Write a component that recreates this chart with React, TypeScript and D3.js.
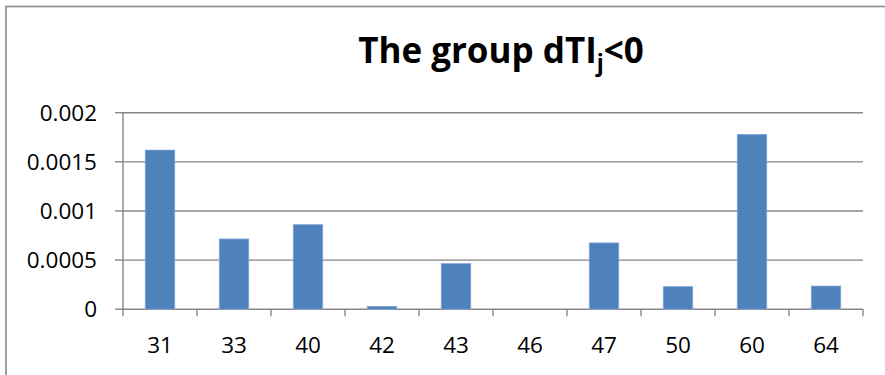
import React from "react";
import * as d3 from "d3";

const categories = ["31", "33", "40", "42", "43", "46", "47", "50", "60", "64"];
const values = [0.00162, 0.000715, 0.000862, 0.00003, 0.000466, 0, 0.000675, 0.000232, 0.00178, 0.000236];
const yTicks = [0, 0.0005, 0.001, 0.0015, 0.002];
const yTickLabels = ["0", "0.0005", "0.001", "0.0015", "0.002"];

const W = 885;
const H = 375;
const plot = { left: 123, right: 863, top: 112.7, bottom: 309.2 };
const font = "'Open Sans', 'Liberation Sans', sans-serif";
const axisColor = "#868686";

export default function App() {
  const x = d3
    .scaleBand<string>()
    .domain(categories)
    .range([plot.left, plot.right])
    .paddingInner(0.6)
    .paddingOuter(0.3);
  const step = (plot.right - plot.left) / categories.length;
  const y = d3.scaleLinear().domain([0, 0.002]).range([plot.bottom, plot.top]);

  return (
    <svg
      width={W}
      height={H}
      style={{ position: "absolute", left: 0, top: 0, background: "#fff" }}
    >
      {/* chart frame */}
      <rect x={6} y={6.5} width={W + 20} height={H + 20} fill="#fff" stroke="#8a8a8a" strokeWidth={1.6} />

      {/* title */}
      <text x={501} y={63} textAnchor="middle" fontFamily={font} fontWeight="bold" fontSize={35} fill="#000">
        The group dTI
        <tspan fontSize={23} dy={8}>j</tspan>
        <tspan fontSize={35} dy={-8}>&lt;0</tspan>
      </text>

      {/* gridlines */}
      {yTicks.map((t) => (
        <line key={"g" + t} x1={plot.left} x2={plot.right} y1={y(t)} y2={y(t)} stroke={axisColor} strokeWidth={1.4} />
      ))}

      {/* y axis */}
      <line x1={plot.left} x2={plot.left} y1={plot.top} y2={plot.bottom} stroke={axisColor} strokeWidth={1.4} />
      {yTicks.map((t, i) => (
        <g key={"yt" + t}>
          <line x1={plot.left - 8} x2={plot.left} y1={y(t)} y2={y(t)} stroke={axisColor} strokeWidth={1.4} />
          <text x={97} y={y(t)} dy="0.36em" textAnchor="end" fontFamily={font} fontSize={22.5} fill="#000">
            {yTickLabels[i]}
          </text>
        </g>
      ))}

      {/* x axis ticks */}
      {d3.range(categories.length + 1).map((i) => (
        <line
          key={"xt" + i}
          x1={plot.left + i * step}
          x2={plot.left + i * step}
          y1={plot.bottom}
          y2={plot.bottom + 7}
          stroke={axisColor}
          strokeWidth={1.4}
        />
      ))}

      {/* bars */}
      {categories.map((c, i) => {
        const v = values[i];
        if (v <= 0) return null;
        return (
          <rect
            key={"b" + c}
            x={x(c)}
            y={y(v)}
            width={x.bandwidth()}
            height={plot.bottom - y(v)}
            fill="#4F81BD"
            stroke="#8eaedb"
            strokeWidth={0.7}
          />
        );
      })}

      {/* x labels */}
      {categories.map((c) => (
        <text
          key={"xl" + c}
          x={(x(c) as number) + x.bandwidth() / 2}
          y={353}
          textAnchor="middle"
          fontFamily={font}
          fontSize={22.5}
          fill="#000"
        >
          {c}
        </text>
      ))}
    </svg>
  );
}
